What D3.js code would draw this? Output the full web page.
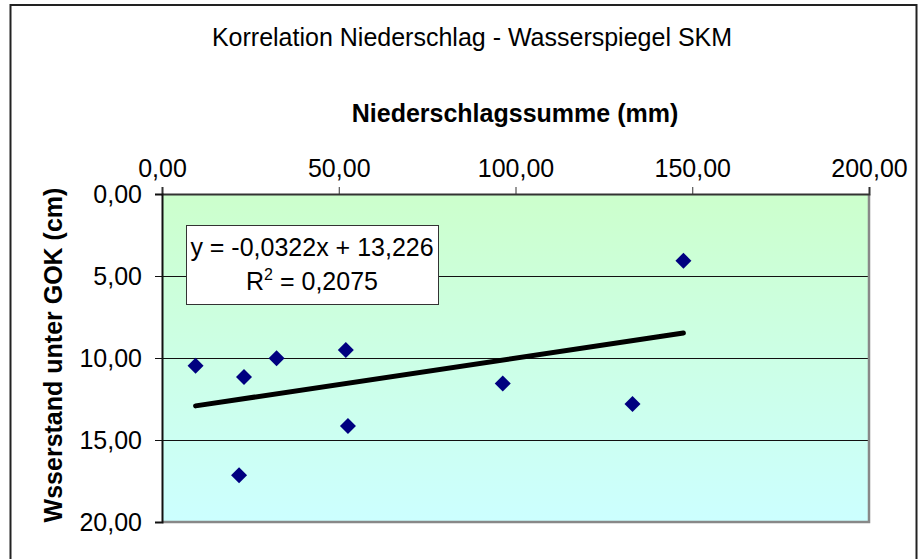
<!DOCTYPE html>
<html>
<head>
<meta charset="utf-8">
<script src="https://cdn.jsdelivr.net/npm/d3@7"></script>
<style>
	body { margin: 0; background: #fff; }
	text { font-family: "Liberation Sans", Arial, sans-serif; fill: #000; }
</style>
</head>
<body>
<div id="chart"></div>
<script>
// data
let niederschlag = [9.5, 23.2, 32.4, 52.0, 52.6, 21.8, 96.4, 133.1, 147.5];
let wasserstand = [10.47, 11.16, 10.02, 9.51, 14.15, 17.15, 11.55, 12.8, 4.07];
let xTicks = [0, 50, 100, 150, 200];
let yTicks = [0, 5, 10, 15, 20];
let trendSlope = -0.0322;
let trendIntercept = 13.226;
let rSquared = "0,2075";

let panel = {
	width: 923,
	height: 559
};
let plot = { left: 162, top: 194, right: 869, bottom: 522 };

let fmt = d => d3.format(".2f")(d).replace(".", ",");

let svg = d3.select("#chart")
	.append("svg")
	.attr("width", panel.width)
	.attr("height", panel.height);

// chart frame
svg.append("rect")
	.attr("x", 10.5)
	.attr("y", 5)
	.attr("width", 906)
	.attr("height", 600)
	.attr("fill", "#fff")
	.attr("stroke", "#222")
	.attr("stroke-width", 2);

let x = d3.scaleLinear().domain([0, 200]).range([plot.left, plot.right]);
let y = d3.scaleLinear().domain([0, 20]).range([plot.top, plot.bottom]);

// background gradient
let grad = svg.append("defs").append("linearGradient")
	.attr("id", "bg")
	.attr("x1", 0).attr("y1", 0)
	.attr("x2", 0).attr("y2", 1);
grad.append("stop").attr("offset", "0%").attr("stop-color", "#ccffcc");
grad.append("stop").attr("offset", "100%").attr("stop-color", "#ccffff");

svg.append("rect")
	.attr("x", plot.left)
	.attr("y", plot.top)
	.attr("width", plot.right - plot.left)
	.attr("height", plot.bottom - plot.top)
	.attr("fill", "url(#bg)");

// gridlines
svg.append("g")
	.selectAll("line")
	.data(yTicks.slice(1, -1))
	.enter().append("line")
	.attr("x1", plot.left)
	.attr("x2", plot.right)
	.attr("y1", d => y(d) + 0.5)
	.attr("y2", d => y(d) + 0.5)
	.attr("stroke", "#111")
	.attr("stroke-width", 1);

// right + bottom border of plot area
svg.append("path")
	.attr("d", `M${plot.right},${plot.top} V${plot.bottom} H${plot.left}`)
	.attr("fill", "none")
	.attr("stroke", "#888")
	.attr("stroke-width", 2.5);

// axes
let xAxis = svg.append("g")
	.attr("transform", `translate(0,${plot.top})`)
	.call(d3.axisTop(x).tickValues(xTicks).tickSize(7).tickPadding(10).tickFormat(fmt));
xAxis.select(".domain").attr("stroke", "#333").attr("stroke-width", 2);
xAxis.selectAll(".tick line").attr("stroke", "#333");
xAxis.selectAll("text")
	.style("font-size", "25px")
	.attr("fill", "#000");

let yAxis = svg.append("g")
	.attr("transform", `translate(${plot.left},0)`)
	.call(d3.axisLeft(y).tickValues(yTicks).tickSize(7).tickPadding(13).tickFormat(fmt));
yAxis.select(".domain").attr("stroke", "#111").attr("stroke-width", 2);
yAxis.selectAll(".tick line").attr("stroke", "#111");
yAxis.selectAll("text")
	.style("font-size", "25px")
	.attr("fill", "#000");

// trend line from min to max x
let xExt = d3.extent(niederschlag);
let trend = xExt.map(v => [v, trendSlope * v + trendIntercept]);
svg.append("path")
	.datum(trend)
	.attr("d", d3.line().x(d => x(d[0])).y(d => y(d[1])))
	.attr("stroke", "#000")
	.attr("stroke-width", 5)
	.attr("stroke-linecap", "round")
	.attr("fill", "none");

// points
let pts = niederschlag.map((v, i) => ({ x: v, y: wasserstand[i] }));
svg.append("g")
	.selectAll("path")
	.data(pts)
	.enter().append("path")
	.attr("d", d3.symbol(d3.symbolSquare, 128))
	.attr("transform", d => `translate(${x(d.x)},${y(d.y)}) rotate(45)`)
	.attr("fill", "#000080");

// equation box
svg.append("rect")
	.attr("x", 186.5)
	.attr("y", 225.5)
	.attr("width", 252)
	.attr("height", 79)
	.attr("fill", "#fff")
	.attr("stroke", "#333")
	.attr("stroke-width", 1);

let eq = "y = " + String(trendSlope).replace(".", ",") + "x + " + String(trendIntercept).replace(".", ",");
svg.append("text")
	.attr("x", 312)
	.attr("y", 256)
	.attr("text-anchor", "middle")
	.style("font-size", "25px")
	.text(eq);

let r2 = svg.append("text")
	.attr("x", 312)
	.attr("y", 290)
	.attr("text-anchor", "middle")
	.style("font-size", "25px");
r2.append("tspan").text("R");
r2.append("tspan").attr("dy", -10).style("font-size", "16px").text("2");
r2.append("tspan").attr("dy", 10).text(" = " + rSquared);

// titles
svg.append("text")
	.attr("x", 472)
	.attr("y", 46)
	.attr("text-anchor", "middle")
	.style("font-size", "25px")
	.text("Korrelation Niederschlag - Wasserspiegel SKM");

svg.append("text")
	.attr("x", 515)
	.attr("y", 122)
	.attr("text-anchor", "middle")
	.style("font-size", "25px")
	.style("font-weight", "bold")
	.text("Niederschlagssumme (mm)");

svg.append("text")
	.attr("transform", "translate(62,355) rotate(-90)")
	.attr("text-anchor", "middle")
	.style("font-size", "25px")
	.style("font-weight", "bold")
	.text("Wsserstand unter GOK (cm)");
</script>
</body>
</html>
